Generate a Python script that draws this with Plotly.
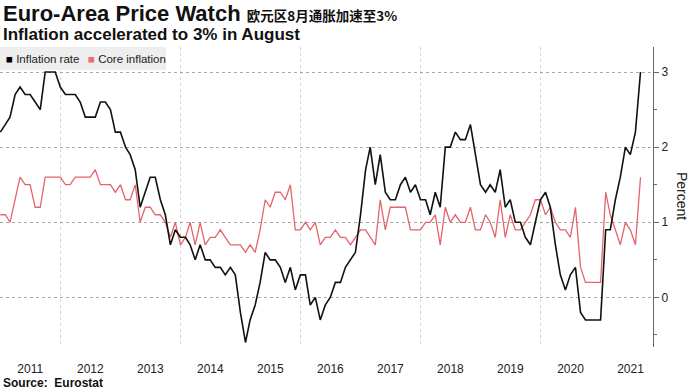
import pandas as pd
import plotly.graph_objects as go

# Monthly readings, first value = Dec 2010, last = Aug 2021 (percent, y/y)
inflation_rate = [
    2.2,
    2.3, 2.4, 2.7, 2.8, 2.7, 2.7, 2.6, 2.5, 3.0, 3.0, 3.0, 2.8,      # 2011
    2.7, 2.7, 2.7, 2.6, 2.4, 2.4, 2.4, 2.6, 2.6, 2.5, 2.2, 2.2,      # 2012
    2.0, 1.9, 1.7, 1.2, 1.4, 1.6, 1.6, 1.3, 1.1, 0.7, 0.9, 0.8,      # 2013
    0.8, 0.7, 0.5, 0.7, 0.5, 0.5, 0.4, 0.4, 0.3, 0.4, 0.3, -0.2,     # 2014
    -0.6, -0.3, -0.1, 0.2, 0.6, 0.5, 0.5, 0.4, 0.2, 0.4, 0.1, 0.3,   # 2015
    0.3, -0.1, 0.0, -0.3, -0.1, 0.0, 0.2, 0.2, 0.4, 0.5, 0.6, 1.1,   # 2016
    1.7, 2.0, 1.5, 1.9, 1.4, 1.3, 1.3, 1.5, 1.6, 1.4, 1.5, 1.3,      # 2017
    1.3, 1.1, 1.4, 1.2, 2.0, 2.0, 2.2, 2.1, 2.1, 2.3, 1.9, 1.5,      # 2018
    1.4, 1.5, 1.4, 1.7, 1.2, 1.3, 1.0, 1.0, 0.8, 0.7, 1.0, 1.3,      # 2019
    1.4, 1.2, 0.7, 0.3, 0.1, 0.3, 0.4, -0.2, -0.3, -0.3, -0.3, -0.3, # 2020
    0.9, 0.9, 1.3, 1.6, 2.0, 1.9, 2.2, 3.0,                          # 2021
]

core_inflation = [
    1.1,
    1.1, 1.0, 1.3, 1.6, 1.5, 1.5, 1.2, 1.2, 1.6, 1.6, 1.6, 1.6,      # 2011
    1.5, 1.5, 1.6, 1.6, 1.6, 1.6, 1.7, 1.5, 1.5, 1.5, 1.4, 1.5,      # 2012
    1.3, 1.3, 1.5, 1.0, 1.2, 1.2, 1.1, 1.1, 1.0, 0.8, 1.0, 0.7,      # 2013
    0.8, 1.0, 0.7, 1.0, 0.7, 0.8, 0.8, 0.9, 0.8, 0.7, 0.7, 0.7,      # 2014
    0.6, 0.7, 0.6, 0.9, 1.3, 1.2, 1.4, 1.4, 1.3, 1.5, 0.9, 0.9,      # 2015
    1.0, 0.9, 1.0, 0.7, 0.8, 0.8, 0.9, 0.8, 0.8, 0.7, 0.8, 0.9,      # 2016
    0.9, 0.8, 0.7, 1.3, 0.9, 1.2, 1.2, 1.2, 1.2, 0.9, 0.9, 0.9,      # 2017
    1.0, 1.0, 1.1, 0.7, 1.2, 1.0, 1.1, 1.0, 1.0, 1.2, 0.9, 0.9,      # 2018
    1.1, 1.0, 0.8, 1.3, 0.8, 1.1, 0.9, 0.9, 1.0, 1.1, 1.3, 1.3,      # 2019
    1.1, 1.2, 1.0, 0.9, 0.9, 0.8, 1.2, 0.4, 0.2, 0.2, 0.2, 0.2,      # 2020
    1.4, 1.1, 0.9, 0.7, 1.0, 0.9, 0.7, 1.6,                          # 2021
]

series_names = ["Inflation rate", "Core inflation"]
year_labels = ["2011", "2012", "2013", "2014", "2015", "2016",
               "2017", "2018", "2019", "2020", "2021"]
y_ticks = [0, 1, 2, 3]

# month-end dates (Dec 2010 ... Aug 2021)
dates = pd.date_range("2011-01-01", periods=len(inflation_rate), freq="MS") - pd.Timedelta(days=1)

BLACK = "#111111"
RED = "#e4646b"
FONT = "Liberation Sans, Arial, sans-serif"

# plot area in pixels: x 0..653, y 47..347
PT, PB, PW = 47, 347, 653
def py(y_px):
    return (PB - y_px) / (PB - PT)
def px(x_px):
    return x_px / PW

fig = go.Figure()
fig.add_trace(go.Scatter(x=dates, y=core_inflation, mode="lines",
                         line=dict(color=RED, width=1.3), name=series_names[1]))
fig.add_trace(go.Scatter(x=dates, y=inflation_rate, mode="lines",
                         line=dict(color=BLACK, width=1.6), name=series_names[0]))

fig.update_layout(
    width=692, height=389,
    margin=dict(l=0, r=692 - PW, t=PT, b=389 - PB),
    plot_bgcolor="white", paper_bgcolor="white",
    showlegend=False,
    font=dict(family=FONT, color="#222222"),
    xaxis=dict(
        type="date", range=["2010-12-29", "2021-11-15"],
        tickmode="array",
        tickvals=[f"{y}-07-01" for y in year_labels],
        ticktext=year_labels,
        ticks="outside", ticklen=11, tickcolor="rgba(0,0,0,0)",
        tickfont=dict(size=12, color="#222222", family=FONT),
        showgrid=False, showline=False, zeroline=False,
        minor=dict(tickmode="linear", tick0="2012-01-01", dtick="M24",
                   showgrid=True, gridcolor="#d4d4d4", griddash="dot", gridwidth=1,
                   ticks=""),
    ),
    yaxis=dict(
        side="right", range=[-0.66, 3.333],
        tickmode="array", tickvals=y_ticks, ticktext=[str(v) for v in y_ticks],
        showgrid=True, gridcolor="#a8a8a8", griddash="dot", gridwidth=1,
        zeroline=False, showline=True, linecolor="#666666", linewidth=1,
        ticks="outside", ticklen=5, tickcolor="#666666",
        tickfont=dict(size=12, color="#222222", family=FONT),
        minor=dict(tickmode="linear", tick0=0, dtick=0.5, ticks="outside",
                   ticklen=3, tickcolor="#666666", showgrid=False),
    ),
)

# legend box (drawn as shape + texts for the compact Bloomberg-style key)
fig.add_shape(type="rect", xref="paper", yref="paper", layer="above",
              x0=0, x1=px(166), y0=py(70), y1=1,
              fillcolor="#eeeeee", line=dict(width=0))
legend_items = [(series_names[0], "#000000", 4), (series_names[1], "#ef6a70", 86)]
for name, col, x0 in legend_items:
    fig.add_annotation(
        text=f"<span style='color:{col}'>■</span> {name}",
        xref="paper", yref="paper", x=px(x0), y=py(58.5), xanchor="left", yanchor="middle",
        showarrow=False, font=dict(size=11.5, color="#222222", family=FONT))

fig.add_annotation(
    text=("<b>Euro-Area Price Watch</b> "
          "<span style='font-family:Noto Sans CJK SC; font-size:13.5px'><b>欧元区8月通胀加速至3%</b></span>"),
    xref="paper", yref="paper", x=0, y=py(14), xanchor="left", yanchor="middle",
    xshift=1, showarrow=False, font=dict(size=22, color="#111111", family=FONT))
fig.add_annotation(
    text="<b>Inflation accelerated to 3% in August</b>",
    xref="paper", yref="paper", x=0, y=py(34.5), xanchor="left", yanchor="middle",
    xshift=1, showarrow=False, font=dict(size=17, color="#111111", family=FONT))
fig.add_annotation(
    text="Percent", textangle=90,
    xref="paper", yref="paper", x=1, y=py(196), xanchor="center", yanchor="middle",
    xshift=29, showarrow=False, font=dict(size=14, color="#222222", family=FONT))
fig.add_annotation(
    text="<b>Source:  Eurostat</b>",
    xref="paper", yref="paper", x=0, y=py(383), xanchor="left", yanchor="middle",
    xshift=1, showarrow=False, font=dict(size=12, color="#111111", family=FONT))

fig.write_html("out.html", config={"displayModeBar": False},
               post_script="document.body.style.margin='0px';")
